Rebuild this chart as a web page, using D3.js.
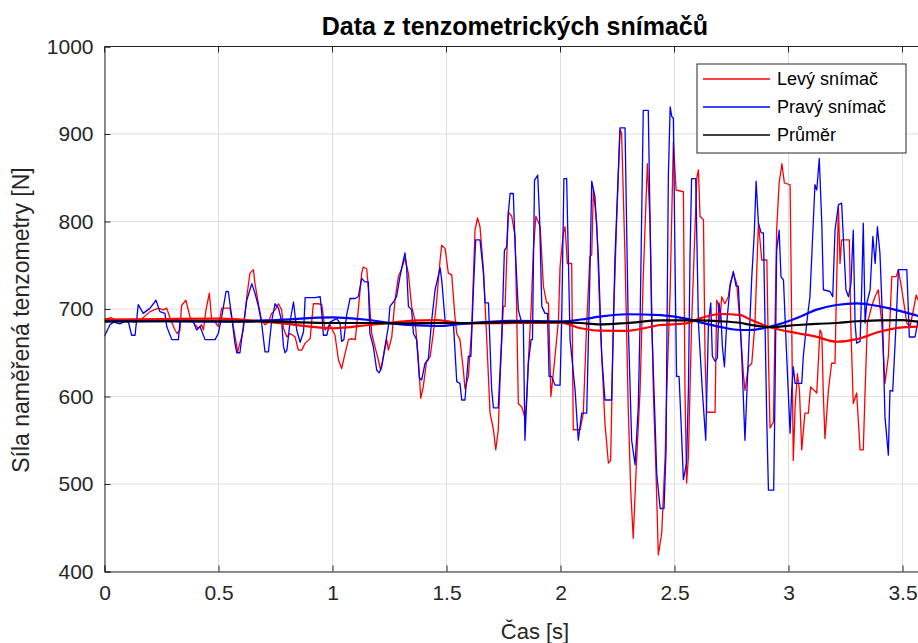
<!DOCTYPE html>
<html>
<head>
<meta charset="utf-8">
<script src="https://cdn.jsdelivr.net/npm/d3@7"></script>
<style>
  body { margin: 0; background: #fff; }
  #chart { width: 918px; height: 643px; }
  text { font-family: "Liberation Sans", Arial, Helvetica, sans-serif; }
</style>
</head>
<body>
<div id="chart"></div>
<script>
// Levý snímač (red) - time [s] and force [N]
const leftT = [0,0.03,0.06,0.1,0.13,0.156,0.2,0.236,0.258,0.273,0.287,0.309,0.319,0.331,0.338,0.357,0.375,0.397,0.412,0.426,0.434,0.445,0.46,0.47,0.485,0.499,
  0.514,0.55,0.565,0.575,0.584,0.594,0.609,0.624,0.638,0.653,0.66,0.675,0.689,0.704,0.719,0.733,0.748,0.763,0.777,0.785,0.8,0.814,0.836,0.85,0.865,0.88,0.902,0.916,0.938,0.953,0.967,0.989,
  1.011,1.026,1.04,1.055,1.07,1.084,1.1,1.113,1.128,1.135,1.15,1.157,1.172,1.186,1.201,1.211,1.223,1.238,1.245,1.26,1.274,1.289,1.303,1.318,1.333,1.347,1.362,1.376,1.387,1.398,1.413,1.428,1.442,1.457,1.472,1.479,1.494,
  1.508,1.523,1.537,1.545,1.559,1.574,1.581,1.596,1.61,1.625,1.636,1.647,1.662,1.676,1.691,1.706,1.716,1.727,1.735,1.749,1.757,1.771,1.786,1.801,1.808,1.815,1.83,1.845,1.852,1.859,1.871,1.881,1.892,1.911,1.925,1.939,1.947,1.958,1.973,1.991,
  1.998,2.012,2.02,2.03,2.049,2.056,2.086,2.1,2.115,2.129,2.137,2.144,2.159,2.174,2.195,2.21,2.22,2.232,2.246,2.261,2.268,2.283,2.297,2.308,2.319,2.331,2.349,2.363,2.381,2.393,2.407,2.419,2.429,2.444,2.459,2.466,2.481,2.495,
  2.507,2.539,2.546,2.553,2.561,2.575,2.583,2.598,2.605,2.612,2.627,2.634,2.641,2.678,2.685,2.692,2.699,2.707,2.721,2.736,2.744,2.758,2.773,2.787,2.802,2.809,2.824,2.839,2.853,2.868,2.883,2.905,2.912,2.919,2.934,2.941,2.948,2.959,2.971,2.982,
  3.007,3.014,3.021,3.029,3.039,3.048,3.058,3.072,3.087,3.097,3.124,3.138,3.146,3.153,3.16,3.175,3.189,3.204,3.211,3.219,3.226,3.233,3.267,3.273,3.284,3.299,3.314,3.328,3.336,3.346,3.365,3.379,3.394,3.409,3.423,3.438,3.453,3.472,3.482,3.497,3.519,3.533,3.548,3.56,3.568];
const leftF = [688,690,686,688,685,687,697,701,699,701,690,676,672,676,704,710,691,682,678,682,676,699,718,687,685,680,
  701,701,680,665,651,661,676,714,741,745,729,706,687,682,685,695,699,706,699,678,668,672,668,653,653,661,666,706,706,705,676,682,
  670,642,632,649,665,666,665,699,741,748,746,725,672,657,642,630,645,665,653,668,710,737,746,758,740,703,687,645,598,611,641,645,672,710,756,773,769,
  741,739,691,672,665,630,609,623,676,790,804,794,745,668,581,562,539,562,619,703,703,811,806,783,695,592,588,575,600,640,699,767,806,794,726,707,707,600,638,687,
  748,786,794,752,752,562,562,581,684,760,762,836,798,684,569,524,527,684,798,905,901,760,588,493,438,512,607,737,866,798,607,512,419,444,531,607,722,891,
  836,834,607,501,531,684,741,850,859,806,802,646,582,582,710,706,684,714,706,714,729,741,729,684,626,607,634,638,684,798,756,756,646,564,571,684,790,844,866,844,
  842,684,527,588,626,607,539,581,581,611,604,676,672,600,552,607,638,638,729,817,752,779,779,684,592,604,539,539,607,684,703,714,722,684,615,646,737,737,745,722,684,680,699,716,710];

// Pravý snímač (blue)
const rightT = [0,0.024,0.04,0.068,0.09,0.105,0.119,0.134,0.148,0.17,0.2,0.226,0.243,0.265,0.273,0.295,0.324,0.331,0.36,0.39,0.404,0.419,0.441,0.485,0.499,
  0.514,0.533,0.543,0.558,0.572,0.58,0.594,0.609,0.624,0.646,0.66,0.675,0.689,0.704,0.719,0.733,0.748,0.763,0.777,0.785,0.792,0.8,0.814,0.829,0.843,0.858,0.873,0.88,0.924,0.946,0.953,0.96,0.975,0.989,
  1.018,1.033,1.04,1.05,1.062,1.077,1.1,1.113,1.128,1.142,1.157,1.164,1.179,1.194,1.205,1.216,1.23,1.245,1.252,1.267,1.281,1.296,1.311,1.318,1.325,1.333,1.347,1.355,1.369,1.381,1.391,1.406,1.42,1.435,1.45,1.472,1.479,1.494,
  1.516,1.53,1.545,1.559,1.567,1.581,1.596,1.607,1.618,1.628,1.647,1.662,1.669,1.684,1.698,1.706,1.727,1.742,1.754,1.764,1.771,1.779,1.793,1.801,1.815,1.83,1.837,1.844,1.859,1.871,1.877,1.886,1.9,1.908,1.918,1.932,1.943,1.95,1.961,1.976,
  1.998,2.005,2.015,2.027,2.042,2.064,2.078,2.093,2.115,2.129,2.137,2.151,2.166,2.181,2.195,2.224,2.239,2.261,2.283,2.297,2.312,2.327,2.341,2.349,2.363,2.385,2.4,2.415,2.422,2.437,2.454,2.463,2.466,2.473,2.481,2.488,2.495,
  2.502,2.509,2.52,2.529,2.539,2.553,2.561,2.568,2.575,2.593,2.605,2.622,2.637,2.649,2.659,2.666,2.678,2.688,2.695,2.704,2.71,2.719,2.729,2.744,2.758,2.77,2.78,2.795,2.809,2.824,2.839,2.85,2.858,2.868,2.88,2.89,2.897,2.905,2.912,2.935,2.941,2.948,2.959,2.967,2.978,2.992,
  3.007,3.014,3.021,3.029,3.058,3.065,3.08,3.094,3.102,3.116,3.124,3.135,3.146,3.153,3.182,3.194,3.204,3.219,3.233,3.241,3.252,3.263,3.274,3.284,3.292,3.299,3.314,3.321,3.328,3.336,3.343,3.358,3.37,3.38,3.39,3.401,3.413,3.423,3.438,3.445,3.457,3.472,3.482,3.519,3.53,3.555,3.568];
const rightF = [669,682,685,683,686,685,670,670,705,695,701,710,697,695,680,665,665,685,687,685,676,680,665,665,672,
  691,720,720,691,661,650,650,681,710,729,718,703,684,651,651,686,706,701,686,657,650,653,686,708,676,662,674,713,713,714,695,670,670,685,
  689,684,663,665,693,712,712,714,735,731,731,672,657,630,627,634,657,680,703,708,714,737,756,764,748,703,699,672,665,621,619,638,642,687,722,747,733,686,
  684,685,617,615,596,596,646,646,722,779,779,741,707,707,608,587,587,668,767,771,809,832,832,771,699,684,684,550,638,665,665,847,853,806,703,695,695,623,623,613,
  613,684,849,849,665,607,550,581,581,741,846,828,760,646,596,596,760,907,907,684,550,522,588,684,927,927,684,569,512,472,472,539,646,851,931,920,918,
  760,623,623,569,505,524,607,760,849,849,684,607,550,684,707,646,640,644,707,691,657,634,684,726,743,726,726,646,550,646,737,787,846,798,787,787,684,569,493,493,607,767,790,737,733,646,
  558,607,634,615,615,646,684,714,760,842,836,872,798,722,720,714,790,819,821,779,722,714,729,790,684,661,663,722,798,684,706,722,783,752,794,764,684,577,533,607,606,684,745,745,668,668,687];

// smoothed curves (thick red / blue) and Průměr (black)
const smoothT     = [0,0.25,0.5,0.75,1.0,1.16,1.28,1.35,1.46,1.57,1.8,2.0,2.09,2.17,2.29,2.44,2.55,2.61,2.7,2.79,2.83,2.92,3.04,3.12,3.21,3.3,3.4,3.5,3.57];
const leftSmooth  = [688,688.5,689,684.4,678,681.7,685,686.7,687.4,683.6,684,684.4,678,675.2,675,681.7,683.5,689,694.3,693,688.2,679.1,672.3,668.4,662.6,665.5,674,679,679.8];
const rightSmooth = [686.3,686,685.5,687.4,690.5,687.4,682.9,681.5,680.6,683,686.5,686,688,691.2,694,693,689,685,679.5,676,676,679.8,690,699,704.6,706.5,703,697,692];
const meanF       = [685.5,686,686,685.5,684,684,683.5,683.6,684,684,685,685,684,682.5,684,687,687,687,686,684,682,679.3,681.7,683,684,686,687,687.4,685.5];

const xTicks = [0, 0.5, 1, 1.5, 2, 2.5, 3, 3.5];
const yTicks = [400, 500, 600, 700, 800, 900, 1000];
const legendNames = ["Levý snímač", "Pravý snímač", "Průměr"];
const legendColors = ["#ff0000", "#0000ff", "#000000"];

const width = 918, height = 643;
const margin = { top: 46.5, left: 104.5, bottom: 71.5 };
const plotBottom = height - margin.bottom;
const plotRight = margin.left + 3.6 * 228;

const svg = d3.select("#chart").append("svg")
  .attr("width", width)
  .attr("height", height);

const x = d3.scaleLinear().domain([0, 3.6]).range([margin.left, plotRight]);
const y = d3.scaleLinear().domain([400, 1000]).range([plotBottom, margin.top]);

// grid
svg.append("g")
  .selectAll("line")
  .data(xTicks)
  .join("line")
  .attr("x1", d => x(d)).attr("x2", d => x(d))
  .attr("y1", margin.top).attr("y2", plotBottom)
  .style("stroke", "#dfdfdf").style("stroke-width", 1);

svg.append("g")
  .selectAll("line")
  .data(yTicks)
  .join("line")
  .attr("x1", margin.left).attr("x2", plotRight)
  .attr("y1", d => y(d)).attr("y2", d => y(d))
  .style("stroke", "#dfdfdf").style("stroke-width", 1);

// lines
svg.append("clipPath").attr("id", "clip")
  .append("rect")
  .attr("x", margin.left).attr("y", margin.top)
  .attr("width", plotRight - margin.left).attr("height", plotBottom - margin.top);

const plot = svg.append("g").attr("clip-path", "url(#clip)");

const pairs = (ts, vs) => ts.map((t, i) => [t, vs[i]]);

const series = [
  { data: pairs(leftT, leftF), color: "#ff0000", w: 1.3 },
  { data: pairs(rightT, rightF), color: "#0000ff", w: 1.3 },
  { data: pairs(smoothT, leftSmooth), color: "#ff0000", w: 2.2 },
  { data: pairs(smoothT, rightSmooth), color: "#0000ff", w: 2.2 },
  { data: pairs(smoothT, meanF), color: "#000000", w: 2.2 }
];

plot.selectAll("path")
  .data(series)
  .join("path")
  .attr("d", d => d3.line().curve(d.w > 2 ? d3.curveMonotoneX : d3.curveLinear)
    .x(p => x(p[0])).y(p => y(p[1]))(d.data))
  .style("fill", "none")
  .style("stroke", d => d.color)
  .style("stroke-width", d => d.w)
  .style("stroke-linejoin", "round");

// axes
const axisColor = "#262626";
const xAxis = svg.append("g")
  .attr("transform", `translate(0,${plotBottom})`)
  .call(d3.axisBottom(x).tickValues(xTicks).tickSize(-6).tickPadding(11).tickFormat(d3.format("")));
const yAxis = svg.append("g")
  .attr("transform", `translate(${margin.left},0)`)
  .call(d3.axisLeft(y).tickValues(yTicks).tickSize(-6).tickPadding(11).tickFormat(d3.format("")));

[xAxis, yAxis].forEach(g => {
  g.select(".domain").style("stroke", axisColor).style("stroke-width", 1);
  g.selectAll(".tick line").style("stroke", axisColor);
  g.selectAll(".tick text")
    .style("fill", axisColor)
    .style("font-size", "21px")
    .style("font-family", "'Liberation Sans', Arial, sans-serif");
});
xAxis.selectAll(".tick text").attr("dy", "0.85em");

// top frame with ticks
svg.append("line")
  .attr("x1", margin.left).attr("x2", plotRight)
  .attr("y1", margin.top).attr("y2", margin.top)
  .style("stroke", axisColor);
svg.append("g")
  .selectAll("line")
  .data(xTicks)
  .join("line")
  .attr("x1", d => x(d)).attr("x2", d => x(d))
  .attr("y1", margin.top).attr("y2", margin.top + 6)
  .style("stroke", axisColor);

// title and labels
svg.append("text")
  .attr("x", x(1.8)).attr("y", 35)
  .attr("text-anchor", "middle")
  .style("font-size", "25px").style("font-weight", "bold").style("fill", "#000")
  .text("Data z tenzometrických snímačů");

svg.append("text")
  .attr("x", 535).attr("y", 639)
  .attr("text-anchor", "middle")
  .style("font-size", "22px").style("fill", axisColor)
  .text("Čas [s]");

svg.append("text")
  .attr("transform", `translate(29,320) rotate(-90)`)
  .attr("text-anchor", "middle")
  .style("font-size", "23px").style("fill", axisColor)
  .text("Síla naměřená tenzometry [N]");

// legend
const legend = svg.append("g").attr("transform", "translate(697,64)");
legend.append("rect")
  .attr("width", 209).attr("height", 89)
  .style("fill", "#fff").style("stroke", axisColor).style("stroke-width", 1);

const items = legend.selectAll("g")
  .data(legendNames)
  .join("g")
  .attr("transform", (d, i) => `translate(0,${15 + i * 28})`);

items.append("line")
  .attr("x1", 6).attr("x2", 73)
  .style("stroke", (d, i) => legendColors[i])
  .style("stroke-width", 1.5);

items.append("text")
  .attr("x", 80).attr("dy", "0.35em")
  .style("font-size", "18px").style("fill", "#000")
  .text(d => d);
</script>
</body>
</html>
